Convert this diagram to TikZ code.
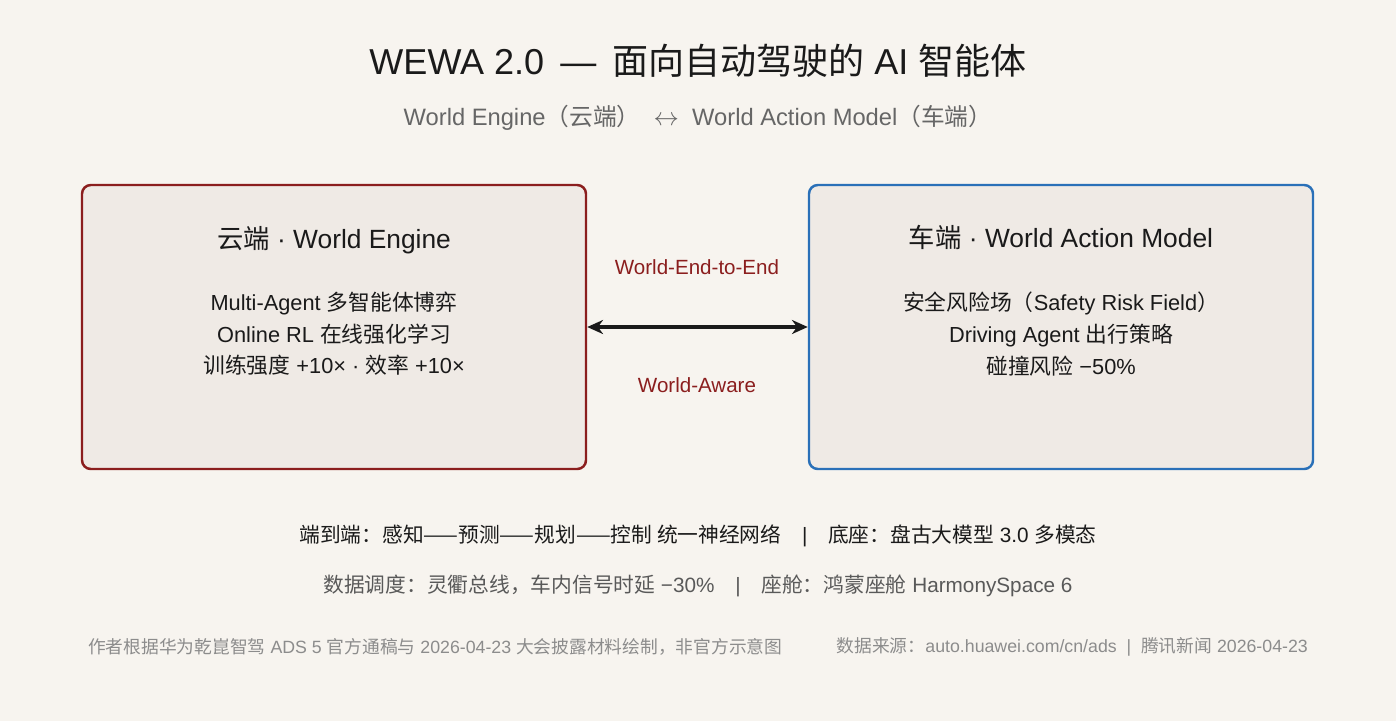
\documentclass[tikz,border=0pt]{standalone}
\usepackage{fontspec}
\setmainfont{Liberation Sans}
\newfontfamily\cjk{Noto Sans CJK SC}
\usetikzlibrary{arrows.meta,positioning}
\definecolor{bgpaper}{HTML}{F7F4EF}
\definecolor{boxfill}{HTML}{EFEAE5}
\definecolor{cloudred}{HTML}{8B1E1E}
\definecolor{carblue}{HTML}{2A70B8}
\definecolor{ink}{HTML}{1A1A1A}
\tikzset{
  panel/.style={draw, line width=1.4pt, fill=boxfill, rounded corners=5pt, minimum width=504*0.02cm, minimum height=284*0.02cm},
  head/.style={text=ink, font=\fontsize{15}{17}\selectfont},
  body/.style={text=ink, font=\fontsize{12.4}{18}\selectfont, align=center},
  link/.style={text=cloudred, font=\fontsize{11.7}{14}\selectfont},
  note/.style={font=\fontsize{11.8}{14}\selectfont}
}
\begin{document}
\begin{tikzpicture}[x=0.02cm, y=-0.02cm]
	\fill[bgpaper] (0,0) rectangle (1396,721);
	\useasboundingbox (0,0) rectangle (1396,721);
	% titles
	\node[text=ink, font=\fontsize{20.5}{24}\selectfont] (title) at (698,61) {WEWA 2.0 \,—\, {\cjk 面向自动驾驶的} AI {\cjk 智能体}};
	\node[text=black!60, font=\fontsize{13.5}{16}\selectfont] (subtitle) at (698,118) {World Engine{\cjk （云端）}\; $\leftrightarrow$ \;World Action Model{\cjk （车端）}};
	% panels
	\node[panel, draw=cloudred] (cloud) at (334,327) {};
	\node[panel, draw=carblue] (car) at (1061,327) {};
	\node[head] (cloudhead) at (334,240) {{\cjk 云端} · World Engine};
	\node[body] (cloudbody) at (334,334) {Multi-Agent {\cjk 多智能体博弈}\\ Online RL {\cjk 在线强化学习}\\ {\cjk 训练强度} +10× · {\cjk 效率} +10×};
	\node[head] (carhead) at (1061,237) {{\cjk 车端} · World Action Model};
	\node[body] (carbody) at (1061,334) {{\cjk 安全风险场（}Safety Risk Field{\cjk ）}\\ Driving Agent {\cjk 出行策略}\\ {\cjk 碰撞风险} −50\%};
	% link between panels
	\draw[ink, line width=1.8pt, {Stealth[length=9pt,width=8pt]}-{Stealth[length=9pt,width=8pt]}] (cloud.east) -- (car.west);
	\node[link] (e2e) at (697,267) {World-End-to-End};
	\node[link] (aware) at (697,385) {World-Aware};
	% notes
	\node[note, text=ink] (line1) at (698,536) {{\cjk 端到端：感知——预测——规划——控制 统一神经网络}\quad|\quad{\cjk 底座：盘古大模型} 3.0 {\cjk 多模态}};
	\node[note, text=black!65] (line2) at (698,586) {{\cjk 数据调度：灵衢总线，车内信号时延} −30\%\quad|\quad{\cjk 座舱：鸿蒙座舱} HarmonySpace 6};
	\node[text=black!45, font=\fontsize{10.1}{12}\selectfont, anchor=west] (src) at (82,647) {{\cjk 作者根据华为乾崑智驾} ADS 5 {\cjk 官方通稿与} 2026-04-23 {\cjk 大会披露材料绘制，非官方示意图}};
	\node[text=black!45, font=\fontsize{10.1}{12}\selectfont, anchor=east] (ref) at (1314,647) {{\cjk 数据来源：}auto.huawei.com/cn/ads \;|\; {\cjk 腾讯新闻} 2026-04-23};
\end{tikzpicture}
\end{document}
